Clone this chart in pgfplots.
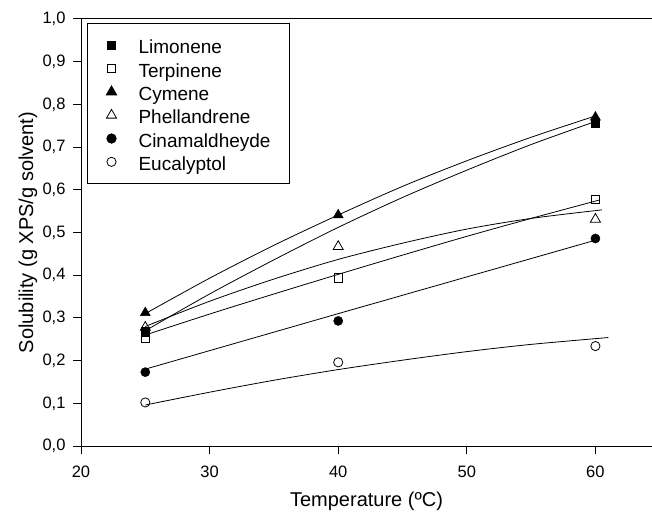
\documentclass[border=0pt]{standalone}
\usepackage{fontspec}
\setmainfont{Liberation Sans}
\usepackage{pgfplots}
\pgfplotsset{compat=1.18}
\begin{document}
\begin{tikzpicture}
\useasboundingbox (-81pt,-66pt) rectangle (571pt,446pt);
\begin{axis}[
    at={(0pt,0pt)}, anchor=south west,
    scale only axis,
    width=571pt, height=427pt,
    xmin=20, xmax=64.4,
    ymin=0, ymax=1,
    axis lines=left,
    axis line style={-, line width=1pt},
    xtick={20,30,40,50,60},
    ytick={0,0.1,...,1.0},
    tick align=outside,
    major tick length=8pt,
    tick style={line width=1pt, black},
    /pgf/number format/assume math mode=true,
    yticklabel style={xshift=-4pt, /pgf/number format/use comma,
        /pgf/number format/fixed, /pgf/number format/fixed zerofill,
        /pgf/number format/precision=1},
    tick label style={font=\fontsize{16.5}{20}\selectfont},
    xticklabel style={yshift=-8pt},
    xlabel={Temperature (ºC)},
    ylabel={Solubility (g XPS/g solvent)},
    label style={font=\fontsize{20}{24}\selectfont},
    xlabel style={at={(axis description cs:0.5,-0.1288)}, anchor=center},
    ylabel style={at={(axis description cs:-0.0928,0.5)}, anchor=center},
    clip=false,
    legend image code/.code={\draw[#1] plot coordinates {(0pt,0pt)};},
    legend style={at={(0.0105,0.99)}, anchor=north west, draw=black, line width=1pt,
        font=\fontsize{19}{23}\selectfont, inner xsep=19pt, inner ysep=12.9pt,
        row sep=6pt, column sep=22pt,
        nodes={inner sep=0pt, text height=17.3pt, text depth=0pt}},
    legend cell align=left,
]
% fitted curves
\addplot[black, line width=0.8pt, smooth, forget plot] coordinates {
    (25,0.270) (30,0.356) (35,0.436) (40,0.512) (45,0.582) (50,0.646) (55,0.706) (60,0.760)};
\addplot[black, line width=0.8pt, smooth, forget plot] coordinates {
    (25,0.260) (30,0.309) (35,0.356) (40,0.402) (45,0.447) (50,0.491) (55,0.533) (60.3,0.576)};
\addplot[black, line width=0.8pt, smooth, forget plot] coordinates {
    (25,0.310) (30,0.393) (35,0.470) (40,0.541) (45,0.608) (50,0.668) (55,0.723) (60,0.773)};
\addplot[black, line width=0.8pt, smooth, forget plot] coordinates {
    (25,0.280) (30,0.339) (35,0.391) (40,0.437) (45,0.475) (50,0.508) (55,0.533) (60.5,0.553)};
\addplot[black, line width=0.8pt, forget plot] coordinates {
    (25,0.180) (40,0.310) (50,0.396) (60,0.482)};
\addplot[black, line width=0.8pt, smooth, forget plot] coordinates {
    (25,0.096) (30,0.126) (35,0.154) (40,0.179) (45,0.201) (50,0.221) (55,0.238) (61,0.254)};
% data points
\addplot[only marks, mark=square*, mark size=4.2pt, black] coordinates {
    (25,0.268) (60,0.757)};
\addlegendentry{Limonene}
\addplot[only marks, mark=square, mark size=4.2pt, black, mark options={line width=0.8pt}] coordinates {
    (25,0.252) (40,0.394) (60,0.578)};
\addlegendentry{Terpinene}
\addplot[only marks, mark=triangle*, mark size=5.8pt, black] coordinates {
    (25,0.312) (40,0.541) (60,0.770)};
\addlegendentry{Cymene}
\addplot[only marks, mark=triangle, mark size=5.8pt, black, mark options={line width=0.8pt}] coordinates {
    (25,0.278) (40,0.467) (60,0.531)};
\addlegendentry{Phellandrene}
\addplot[only marks, mark=*, mark size=4.6pt, black] coordinates {
    (25,0.173) (40,0.293) (60,0.486)};
\addlegendentry{Cinamaldheyde}
\addplot[only marks, mark=o, mark size=4.6pt, black, mark options={line width=0.8pt}] coordinates {
    (25,0.102) (40,0.196) (60,0.234)};
\addlegendentry{Eucalyptol}
\draw[line width=1pt] (rel axis cs:0,1) -- (rel axis cs:1,1);
\end{axis}
\end{tikzpicture}
\end{document}
